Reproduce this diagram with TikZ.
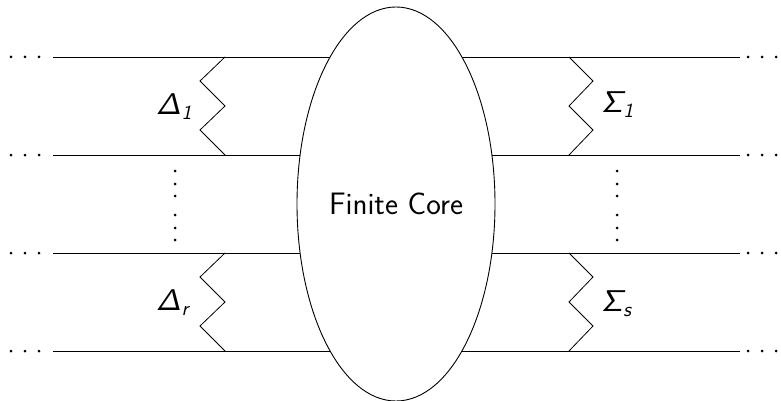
\documentclass[tikz,border=0pt]{standalone}
\usetikzlibrary{shapes.geometric}
\DeclareFontFamily{OT1}{mysfsl}{}
\DeclareFontShape{OT1}{mysfsl}{m}{n}{<->cmssi10}{}
\newcommand{\slsf}[1]{{\fontencoding{OT1}\fontfamily{mysfsl}\fontseries{m}\fontshape{n}\fontsize{30}{33}\selectfont #1}}
\newcommand{\slsub}[1]{{\fontencoding{OT1}\fontfamily{mysfsl}\fontseries{m}\fontshape{n}\fontsize{20}{22}\selectfont #1}}
\newcommand{\lbl}[2]{\slsf{\char#1}\kern0.5pt\raisebox{-5pt}{\slsub{#2}}}
\begin{document}
\begin{tikzpicture}[x=1pt,y=-1pt,
  wire/.style={line width=0.9pt},
  zig/.style={line width=0.8pt},
  dotc/.style={fill=black,circle,inner sep=0pt,minimum size=3pt},
  core/.style={ellipse,draw,line width=0.9pt,fill=white,minimum width=198pt,minimum height=394pt,inner sep=0pt,font=\sffamily\fontsize{31}{34}\selectfont},
  lab/.style={anchor=base west,inner sep=0pt}]
\useasboundingbox (0,0) rectangle (781,401);
% wires
\foreach \y/\n in {57/1,155/2,253/3,351/4}{
  \coordinate (l\n) at (53,\y);
  \coordinate (r\n) at (740,\y);
  \draw[wire] (l\n) -- (r\n);
  \foreach \x in {11,25,39}{\node[dotc] at (\x,\y) {};}
  \foreach \x in {748,762,776}{\node[dotc] at (\x,\y) {};}
}
% zigzags
\foreach \t in {57,253}{
  \draw[zig] (225,\t) -- (200,\t+24) -- (225,\t+49) -- (200,\t+73) -- (225,\t+98);
  \draw[zig] (569,\t) -- (593,\t+24) -- (569,\t+49) -- (593,\t+73) -- (569,\t+98);
}
% vertical dots
\foreach \y in {171,184,196,215,228,240}{
  \node[dotc] at (175,\y) {};
  \node[dotc] at (617,\y) {};
}
% core
\node[core] (core) at (396,204) {Finite Core};
% labels
\node[lab] (d1) at (156,115) {\lbl{1}{1}};
\node[lab] (s1) at (601,113) {\lbl{6}{1}};
\node[lab] (dr) at (156,310) {\lbl{1}{r}};
\node[lab] (ss) at (601,311) {\lbl{6}{s}};
\end{tikzpicture}
\end{document}
